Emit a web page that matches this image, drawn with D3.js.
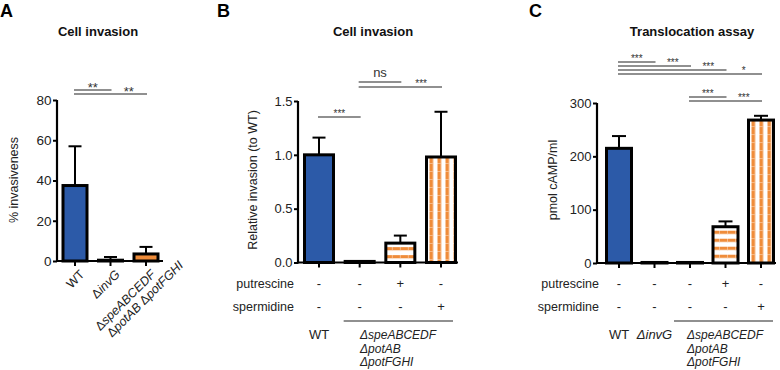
<!DOCTYPE html>
<html><head><meta charset="utf-8">
<script src="https://cdn.jsdelivr.net/npm/d3@7"></script>
<style>
body{margin:0;background:#fff;}
svg{display:block;font-family:"Liberation Sans",Arial,sans-serif;}
</style></head>
<body>
<svg id="chart" width="780" height="370"></svg>
<script>
// ---------- DATA ----------
const aCategories = ["WT", "ΔinvG", "ΔspeABCEDF ΔpotAB ΔpotFGHI"];
const aValues = [37.5, 0.4, 3.5];
const aErrors = [19.5, 1.6, 3.5];
const aFills = ["blue", "blue", "orange"];
const aTicks = [0, 20, 40, 60, 80];
const aBrackets = [{from: 0, to: 1, label: "**"}, {from: 0, to: 2, label: "**"}];

const bCategories = ["WT", "mut", "mut+put", "mut+spd"];
const bValues = [1.0, 0.01, 0.18, 0.98];
const bErrors = [0.16, 0.003, 0.07, 0.42];
const bFills = ["blue", "hstripe", "hstripe", "vstripe"];
const bTicks = [0, 0.5, 1.0, 1.5];
const bPutrescine = ["-", "-", "+", "-"];
const bSpermidine = ["-", "-", "-", "+"];
const bBracketsLow = [{from: 0, to: 1, label: "***"}];
const bBracketsHigh = [{from: 1, to: 2, label: "ns"}, {from: 1, to: 3, label: "***"}];

const cCategories = ["WT", "invG", "mut", "mut+put", "mut+spd"];
const cValues = [215, 1, 1, 68, 268];
const cErrors = [23, 0.4, 0.4, 10, 8];
const cFills = ["blue", "blue", "none", "hstripe", "vstripe"];
const cTicks = [0, 100, 200, 300];
const cPutrescine = ["-", "-", "-", "+", "-"];
const cSpermidine = ["-", "-", "-", "-", "+"];
const cBracketsTop = [{from: 0, to: 1, label: "***"}, {from: 0, to: 2, label: "***"}, {from: 0, to: 3, label: "***"}, {from: 0, to: 4, label: "*"}];
const cBracketsLow = [{from: 2, to: 3, label: "***"}, {from: 2, to: 4, label: "***"}];

const strainGroupLines = ["ΔspeABCEDF", "ΔpotAB", "ΔpotFGHI"];

// ---------- STYLE ----------
const BLUE = "#2c5aa8";
const ORANGE = "#ef8c3a";
const TXT = "#222";
const svg = d3.select("#chart");
const defs = svg.append("defs");
let patId = 0;

function makePattern(type, x, y) {
  const id = "p" + (patId++);
  if (type === "hstripe") {
    const p = defs.append("pattern").attr("id", id).attr("patternUnits", "userSpaceOnUse")
      .attr("x", x).attr("y", y + 4).attr("width", 8).attr("height", 8);
    p.append("rect").attr("width", 8).attr("height", 8).attr("fill", "#fff");
    p.append("rect").attr("y", 0).attr("width", 8).attr("height", 3.2).attr("fill", ORANGE);
    p.append("rect").attr("x", 6).attr("y", 0).attr("width", 1).attr("height", 3.2).attr("fill", "#f6b987");
  } else {
    const p = defs.append("pattern").attr("id", id).attr("patternUnits", "userSpaceOnUse")
      .attr("x", x + 3).attr("y", y).attr("width", 8).attr("height", 8);
    p.append("rect").attr("width", 8).attr("height", 8).attr("fill", "#fff");
    p.append("rect").attr("x", 0).attr("width", 3.6).attr("height", 8).attr("fill", ORANGE);
    p.append("rect").attr("x", 0).attr("y", 6).attr("width", 3.6).attr("height", 1).attr("fill", "#f6b987");
  }
  return "url(#" + id + ")";
}

function panel(cfg) {
  const g = svg.append("g");
  const y = d3.scaleLinear().domain(cfg.domain).range([cfg.y0, cfg.y1]);
  const x = d3.scalePoint().domain(cfg.cats).range(cfg.xr);
  const ax = g.append("g").attr("transform", `translate(${cfg.axisX},0)`)
    .call(d3.axisLeft(y).tickValues(cfg.ticks).tickSize(4).tickPadding(1.5).tickFormat(cfg.fmt));
  ax.select(".domain").attr("stroke-width", 2.2).attr("d", `M0,${cfg.y0 + 1}V${cfg.y1}`);
  ax.selectAll(".tick line").attr("stroke-width", 2);
  ax.selectAll(".tick text").attr("font-size", cfg.tickFs).attr("fill", TXT).attr("font-family", "Liberation Sans, Arial");
  g.append("line").attr("x1", cfg.axisX).attr("x2", cfg.baseEnd).attr("y1", cfg.y0).attr("y2", cfg.y0)
    .attr("stroke", "#000").attr("stroke-width", 2.2);
  g.selectAll(".xt").data(cfg.cats).join("line")
    .attr("x1", d => x(d)).attr("x2", d => x(d)).attr("y1", cfg.y0).attr("y2", cfg.y0 + 5)
    .attr("stroke", "#000").attr("stroke-width", 2);
  cfg.cats.forEach((c, i) => {
    const v = cfg.vals[i], e = cfg.errs[i];
    const cx = x(c);
    g.append("line").attr("x1", cx).attr("x2", cx).attr("y1", y(v)).attr("y2", y(v + e))
      .attr("stroke", "#000").attr("stroke-width", 2);
    g.append("line").attr("x1", cx - cfg.cap / 2).attr("x2", cx + cfg.cap / 2).attr("y1", y(v + e)).attr("y2", y(v + e))
      .attr("stroke", "#000").attr("stroke-width", 2);
  });
  cfg.cats.forEach((c, i) => {
    const v = cfg.vals[i];
    const cx = x(c), w = cfg.bw;
    const top = y(v), h = Math.max(cfg.y0 - top, 0.5);
    let fill;
    if (cfg.fills[i] === "blue") fill = BLUE;
    else if (cfg.fills[i] === "orange") fill = ORANGE;
    else if (cfg.fills[i] === "none") fill = "#fff";
    else fill = makePattern(cfg.fills[i], cx - w / 2, top);
    g.append("rect").attr("x", cx - w / 2).attr("y", top).attr("width", w).attr("height", h)
      .attr("fill", fill).attr("stroke", "#000").attr("stroke-width", 3);
  });
  g.append("text").attr("x", cfg.titleX).attr("y", 36).attr("text-anchor", "middle")
    .attr("font-weight", "bold").attr("font-size", 13).attr("fill", "#111").text(cfg.title);
  g.append("text").attr("x", cfg.letterX).attr("y", 17).attr("font-weight", "bold")
    .attr("font-size", 18).attr("fill", "#000").text(cfg.letter);
  g.append("text").attr("transform", `translate(${cfg.ylabX},${cfg.ylabY}) rotate(-90)`)
    .attr("text-anchor", "middle").attr("font-size", 12.5).attr("fill", TXT).text(cfg.ylab);
  function drawBrackets(list, baseY, step, fs, off) {
    list.forEach((b, k) => {
      const ly = baseY + k * step;
      const x1 = x(cfg.cats[b.from]) - 1, x2 = x(cfg.cats[b.to]) + 1;
      g.append("line").attr("x1", x1).attr("x2", x2).attr("y1", ly).attr("y2", ly)
        .attr("stroke", "#222").attr("stroke-width", 1.2);
      const segStart = k === 0 ? x1 : x(cfg.cats[list[k - 1].to]);
      const isNs = b.label === "ns";
      g.append("text").attr("x", (segStart + x2) / 2).attr("y", isNs ? ly - 5 : ly + off)
        .attr("text-anchor", "middle").attr("font-size", isNs ? 13 : fs).attr("fill", "#333").text(b.label);
    });
  }
  cfg.brackets.forEach(bs => drawBrackets(bs.list, bs.y, bs.step, bs.fs, bs.off));
  return {g, x, y};
}

// ---------- PANEL A ----------
const A = panel({
  cats: aCategories, vals: aValues, errs: aErrors, fills: aFills, ticks: aTicks,
  domain: [0, 80], y0: 261, y1: 100, xr: [75, 146], axisX: 57, baseEnd: 163, bw: 24, cap: 13,
  fmt: d3.format("d"), tickFs: 13.5, title: "Cell invasion", titleX: 98, letter: "A", letterX: 0,
  ylab: "% invasiveness", ylabX: 18, ylabY: 180,
  brackets: [{list: aBrackets, y: 90, step: 4, fs: 13, off: 2}]
});
(function () {
  const g = A.g;
  const lab = (cx, lines) => {
    const t = g.append("text").attr("transform", `translate(${cx + 4},${269}) rotate(-45)`)
      .attr("text-anchor", "end").attr("font-size", 12.5).attr("fill", TXT);
    lines.forEach((ln, i) => {
      const ts = t.append("tspan").attr("x", ln.dx || 0).attr("dy", i === 0 ? "0.7em" : "1.05em");
      ln.parts.forEach(p => ts.append("tspan").attr("font-style", p.it ? "italic" : "normal").text(p.t));
    });
  };
  lab(A.x(aCategories[0]), [{parts: [{t: "WT"}]}]);
  lab(A.x(aCategories[1]), [{parts: [{t: "Δ"}, {t: "invG", it: true}]}]);
  lab(A.x(aCategories[2]), [{parts: [{t: "Δ"}, {t: "speABCEDF", it: true}]},
    {dx: 26, parts: [{t: "Δ"}, {t: "potAB", it: true}, {t: " Δ"}, {t: "potFGHI", it: true}]}]);
})();

// ---------- PANEL B ----------
const B = panel({
  cats: bCategories, vals: bValues, errs: bErrors, fills: bFills, ticks: bTicks,
  domain: [0, 1.5], y0: 262.5, y1: 101, xr: [319, 441], axisX: 298, baseEnd: 458, bw: 29, cap: 13,
  fmt: d3.format(".1f"), tickFs: 13, title: "Cell invasion", titleX: 373, letter: "B", letterX: 217,
  ylab: "Relative invasion (to WT)", ylabX: 257, ylabY: 180,
  brackets: [{list: bBracketsLow, y: 117, step: 4, fs: 10, off: 0}, {list: bBracketsHigh, y: 82, step: 5, fs: 10, off: 0}]
});

// ---------- PANEL C ----------
const C = panel({
  cats: cCategories, vals: cValues, errs: cErrors, fills: cFills, ticks: cTicks,
  domain: [0, 300], y0: 263, y1: 103, xr: [619, 761], axisX: 597, baseEnd: 776, bw: 25, cap: 14,
  fmt: d3.format("d"), tickFs: 13, title: "Translocation assay", titleX: 692, letter: "C", letterX: 529,
  ylab: "pmol cAMP/ml", ylabX: 557, ylabY: 180,
  brackets: [{list: cBracketsTop, y: 62, step: 4, fs: 10, off: 0}, {list: cBracketsLow, y: 97, step: 4, fs: 10, off: 0}]
});

// ---------- condition rows & strain labels ----------
function rows(P, cats, put, spd, labelX) {
  const g = P.g;
  [["putrescine", put, 288], ["spermidine", spd, 311]].forEach(([name, arr, yy]) => {
    g.append("text").attr("x", labelX).attr("y", yy).attr("text-anchor", "end")
      .attr("font-size", 12.5).attr("fill", TXT).text(name);
    g.selectAll(null).data(cats).join("text")
      .attr("x", d => P.x(d)).attr("y", yy).attr("text-anchor", "middle")
      .attr("font-size", 13).attr("fill", TXT).text((d, i) => arr[i]);
  });
}
rows(B, bCategories, bPutrescine, bSpermidine, 294);
rows(C, cCategories, cPutrescine, cSpermidine, 599);

function strainGroup(P, startCat, endCat, textX) {
  const g = P.g;
  g.append("line").attr("x1", P.x(startCat) - 16).attr("x2", P.x(endCat) + 12)
    .attr("y1", 321).attr("y2", 321).attr("stroke", "#222").attr("stroke-width", 1.2);
  strainGroupLines.forEach((nm, i) => {
    g.append("text").attr("x", textX).attr("y", 339 + i * 13.5).attr("font-size", 12)
      .attr("font-style", "italic").attr("fill", TXT).text(nm);
  });
}
function strainLabel(P, cat, txt, it) {
  P.g.append("text").attr("x", P.x(cat)).attr("y", 339).attr("text-anchor", "middle")
    .attr("font-size", 13).attr("font-style", it ? "italic" : "normal").attr("fill", TXT).text(txt);
}
strainLabel(B, bCategories[0], "WT", false);
strainGroup(B, bCategories[1], bCategories[3], 360);
strainLabel(C, cCategories[0], "WT", false);
strainLabel(C, cCategories[1], "ΔinvG", true);
strainGroup(C, cCategories[2], cCategories[4], 687);
</script>
</body></html>
